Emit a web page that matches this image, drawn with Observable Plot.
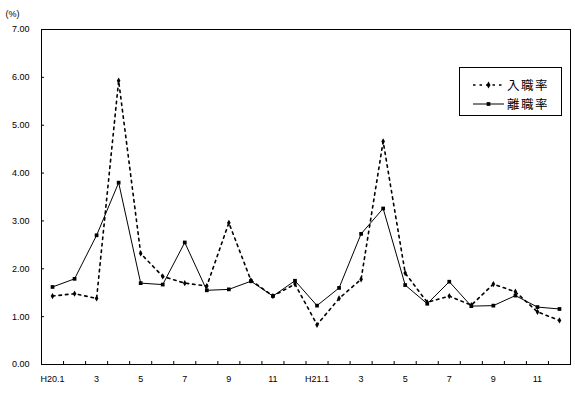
<!DOCTYPE html>
<html>
<head>
<meta charset="utf-8">
<script src="https://cdn.jsdelivr.net/npm/d3@7"></script>
<script src="https://cdn.jsdelivr.net/npm/@observablehq/plot@0.6"></script>
<style>
  html, body { margin: 0; padding: 0; background: #fff; }
  #wrap { position: relative; width: 575px; height: 393px; }
  #legend {
    position: absolute; left: 459px; top: 67px; width: 103px; height: 49px;
    border: 1px solid #000; background: #fff; box-sizing: border-box;
    font-family: "Noto Sans CJK JP", sans-serif; font-size: 12.5px; color: #000;
  }
  .row { position: absolute; left: 0; height: 18px; display: flex; align-items: center; }
  .row svg { margin-left: 13px; }
  .row span { margin-left: 3px; line-height: 18px; letter-spacing: 1.5px; }
</style>
</head>
<body>
<div id="wrap">
  <div id="chart"></div>
  <div id="legend"></div>
</div>
<script>
// Categories (months, H20.1 .. H21.12)
const months = ["H20.1","2","3","4","5","6","7","8","9","10","11","12",
                "H21.1","2","3","4","5","6","7","8","9","10","11","12"];
// Series values (%)
const nyushoku = [1.43,1.48,1.38,5.93,2.32,1.84,1.70,1.64,2.96,1.76,1.43,1.68,
                  0.83,1.38,1.78,4.66,1.91,1.30,1.43,1.24,1.68,1.52,1.10,0.92];
const rishoku  = [1.62,1.79,2.70,3.80,1.70,1.67,2.55,1.55,1.57,1.74,1.43,1.75,
                  1.23,1.60,2.73,3.26,1.66,1.27,1.73,1.22,1.23,1.44,1.20,1.16];
// Series names
const seriesNames = ["入職率","離職率"];
// Y tick values / labels
const yTicks = [0,1,2,3,4,5,6,7];
const yTickLabels = ["0.00","1.00","2.00","3.00","4.00","5.00","6.00","7.00"];
const unitLabel = "(%)";

const idx = d3.range(months.length);
const dataIn = idx.map(i => ({i, v: nyushoku[i]}));
const dataOut = idx.map(i => ({i, v: rishoku[i]}));
const labelIdx = idx.filter(i => i % 2 === 0);
const boundaries = d3.range(1, months.length);

const numFont = "Liberation Sans, Arial, sans-serif";

const chart = Plot.plot({
  width: 575,
  height: 393,
  marginLeft: 41,
  marginRight: 5,
  marginTop: 29,
  marginBottom: 29,
  style: {fontFamily: numFont, fontSize: "9px", color: "#000", background: "#fff"},
  x: {type: "linear", domain: [0, months.length], axis: null},
  y: {domain: [0, 7], axis: null},
  marks: [
    Plot.frame({stroke: "#000", strokeWidth: 1}),
    // y inside ticks
    Plot.ruleY(yTicks, {y: d => d, x1: 0, x2: 0, insetRight: -3, stroke: "#000"}),
    // x inside ticks at category boundaries
    Plot.ruleX(boundaries, {x: d => d, y1: 0, y2: 0, insetTop: -3, stroke: "#000"}),
    Plot.axisY({ticks: yTicks, tickSize: 0, tickPadding: 12, tickFormat: (d, i) => yTickLabels[yTicks.indexOf(d)], fontSize: 9, label: null}),
    Plot.text(labelIdx, {x: i => i + 0.5, frameAnchor: "bottom", dy: 17, text: i => months[i], fontSize: 9, fill: "#000"}),
    Plot.text([unitLabel], {frameAnchor: "top-left", dx: -36, dy: -19, textAnchor: "start", fontSize: 9, fill: "#000"}),
    // 入職率: dashed with diamond markers
    Plot.line(dataIn, {x: d => d.i + 0.5, y: "v", stroke: "#000", strokeWidth: 1.6, strokeDasharray: "2.5,4"}),
    Plot.dot(dataIn, {x: d => d.i + 0.5, y: "v", symbol: "diamond", r: 1.9, fill: "#000", stroke: "none"}),
    // 離職率: solid with square markers
    Plot.line(dataOut, {x: d => d.i + 0.5, y: "v", stroke: "#000", strokeWidth: 1}),
    Plot.dot(dataOut, {x: d => d.i + 0.5, y: "v", symbol: "square", r: 2.1, fill: "#000", stroke: "none"})
  ]
});
document.getElementById("chart").appendChild(chart);

// Legend
const legend = document.getElementById("legend");
const styles = [
  {dash: "2.5,4", width: 1.6, symbol: "diamond"},
  {dash: null, width: 1, symbol: "square"}
];
const rowTops = [7.5, 26.5];
seriesNames.forEach((name, k) => {
  const row = document.createElement("div");
  row.className = "row";
  row.style.top = rowTops[k] + "px";
  const s = styles[k];
  const svg = d3.create("svg").attr("width", 31).attr("height", 18);
  const ln = svg.append("line").attr("x1", 0).attr("x2", 31).attr("y1", 9).attr("y2", 9)
    .attr("stroke", "#000").attr("stroke-width", s.width);
  if (s.dash) ln.attr("stroke-dasharray", s.dash);
  svg.append("path").attr("transform", "translate(15.5,9)")
    .attr("d", d3.symbol(s.symbol === "diamond" ? d3.symbolDiamond : d3.symbolSquare, 14)())
    .attr("fill", "#000");
  row.appendChild(svg.node());
  const sp = document.createElement("span");
  sp.textContent = name;
  row.appendChild(sp);
  legend.appendChild(row);
});
</script>
</body>
</html>
